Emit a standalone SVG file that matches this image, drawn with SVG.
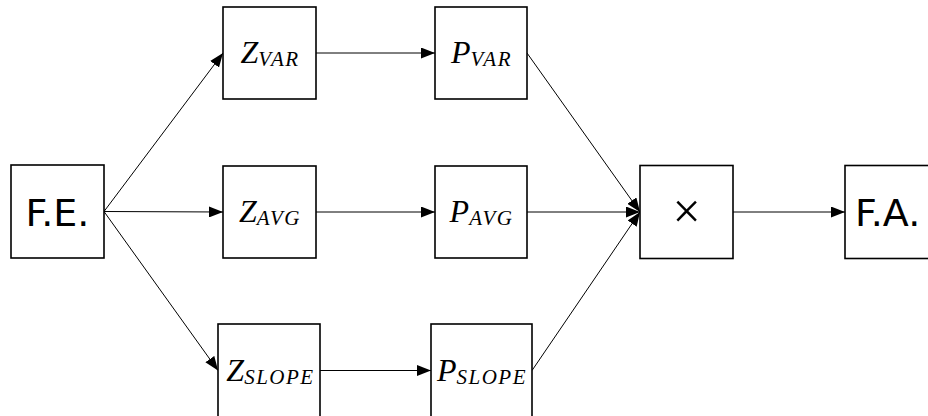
<svg xmlns="http://www.w3.org/2000/svg" width="928" height="416" viewBox="0 0 928 416">
  <defs>
    <marker id="arrow" markerUnits="userSpaceOnUse" markerWidth="14" markerHeight="11" refX="14" refY="5.5" orient="auto">
      <path d="M0,0 L14,5.5 L0,11 z" fill="#000"/>
    </marker>
    <style>
      .box { fill: #fff; stroke: #000; stroke-width: 1.6; }
      .edge { stroke: #000; stroke-width: 1; fill: none; marker-end: url(#arrow); }
      .big { font-family: "DejaVu Sans", sans-serif; font-size: 38px; fill: #000; }
      .math { font-family: "Liberation Serif", serif; font-style: italic; font-size: 32px; fill: #000; text-anchor: middle; }
      .sub { font-size: 21px; letter-spacing: 1.5px; }
      .op { font-family: "Liberation Serif", serif; font-size: 50px; fill: #000; text-anchor: middle; }
    </style>
  </defs>
  <rect width="928" height="416" fill="#fff"/>

  <g id="connectors">
    <line class="edge" x1="104" y1="211.5" x2="223" y2="53"/>
    <line class="edge" x1="104" y1="211.5" x2="223" y2="212"/>
    <line class="edge" x1="104" y1="211.5" x2="218" y2="370.5"/>
    <line class="edge" x1="316" y1="53" x2="435" y2="53"/>
    <line class="edge" x1="316" y1="212" x2="435" y2="212"/>
    <line class="edge" x1="320" y1="370.5" x2="431" y2="370.5"/>
    <line class="edge" x1="527" y1="53" x2="640" y2="212"/>
    <line class="edge" x1="527" y1="212" x2="640" y2="212"/>
    <line class="edge" x1="532" y1="370.5" x2="640" y2="212"/>
    <line class="edge" x1="733" y1="212" x2="845" y2="212"/>
  </g>

  <g id="fe">
    <rect class="box" x="11" y="165" width="93" height="93"/>
    <text class="big" x="57.5" y="226" text-anchor="middle">F.E.</text>
  </g>

  <g id="z-var">
    <rect class="box" x="223" y="7" width="93" height="92"/>
    <text class="math" x="270" y="63">Z<tspan class="sub" dy="3">VAR</tspan></text>
  </g>
  <g id="p-var">
    <rect class="box" x="435" y="7" width="92" height="92"/>
    <text class="math" x="481.5" y="63">P<tspan class="sub" dy="3">VAR</tspan></text>
  </g>

  <g id="z-avg">
    <rect class="box" x="223" y="166" width="93" height="92"/>
    <text class="math" x="270" y="222">Z<tspan class="sub" dy="3">AVG</tspan></text>
  </g>
  <g id="p-avg">
    <rect class="box" x="435" y="166" width="92" height="92"/>
    <text class="math" x="481.5" y="222">P<tspan class="sub" dy="3">AVG</tspan></text>
  </g>

  <g id="z-slope">
    <rect class="box" x="218" y="324" width="102" height="93"/>
    <text class="math" x="270.5" y="381">Z<tspan class="sub" dy="3">SLOPE</tspan></text>
  </g>
  <g id="p-slope">
    <rect class="box" x="431" y="324" width="101" height="93"/>
    <text class="math" x="482" y="381">P<tspan class="sub" dy="3">SLOPE</tspan></text>
  </g>

  <g id="product">
    <rect class="box" x="640" y="165.5" width="93" height="93"/>
    <text class="op" x="686.5" y="228">×</text>
  </g>

  <g id="fa">
    <rect class="box" x="845" y="165.5" width="93" height="93"/>
    <text class="big" x="855" y="226">F.A.</text>
  </g>
</svg>
